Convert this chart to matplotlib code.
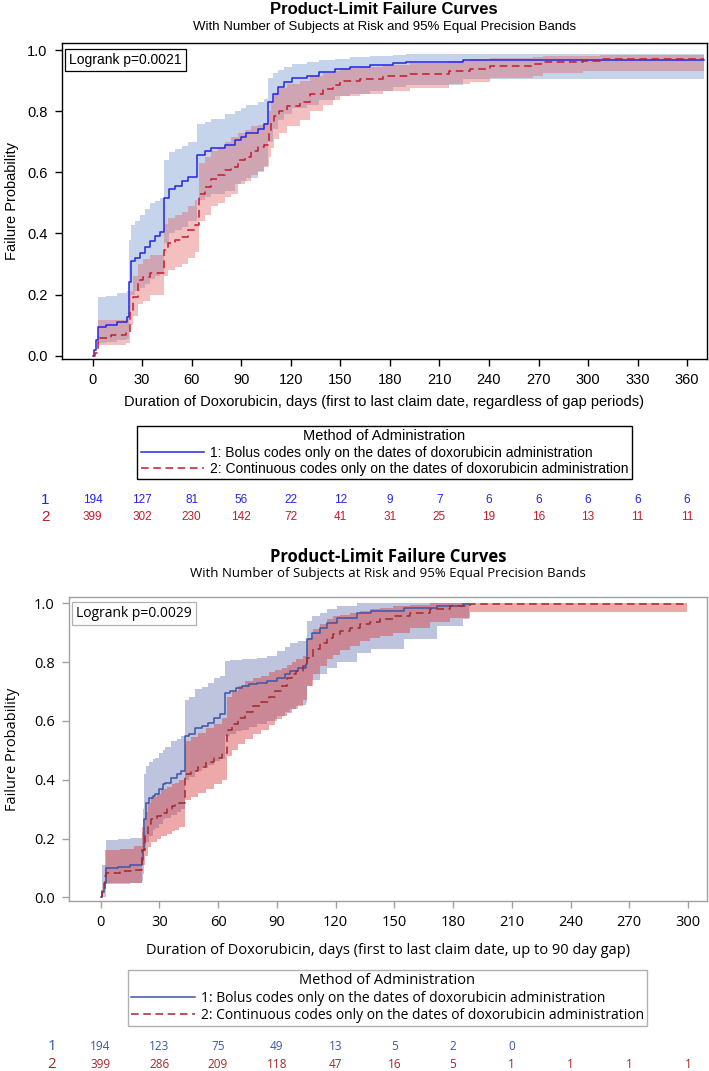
"""Product-limit failure curves for bolus vs continuous doxorubicin (two panels)."""
import matplotlib
matplotlib.use("Agg")
import matplotlib.pyplot as plt
from matplotlib.lines import Line2D
from matplotlib.transforms import blended_transform_factory

# ---- top panel: regardless of gap periods ----
# event times, failure probability and the 95% band at each time
TOP_T1 = [0, 1, 2, 3, 8, 15, 21, 22, 23, 26, 29, 32, 35, 38, 41, 43, 46, 50, 54, 58,
          63.5, 68, 72, 80, 86, 90, 93, 100, 104, 106.5, 109, 112, 116, 121, 130, 137,
          147, 156, 168, 182, 190, 224]
TOP_F1 = [0, 0.02, 0.05, 0.093, 0.10, 0.11, 0.125, 0.24, 0.31, 0.32, 0.335, 0.355, 0.375,
          0.39, 0.405, 0.515, 0.545, 0.555, 0.57, 0.585, 0.655, 0.67, 0.68, 0.69, 0.705,
          0.715, 0.727, 0.74, 0.757, 0.83, 0.855, 0.878, 0.894, 0.907, 0.916, 0.927, 0.938,
          0.943, 0.95, 0.959, 0.962, 0.968]
TOP_LO1 = [0, 0.02, 0.05, 0.04, 0.045, 0.05, 0.055, 0.13, 0.20, 0.21, 0.22, 0.235, 0.25,
           0.26, 0.27, 0.37, 0.40, 0.41, 0.42, 0.44, 0.51, 0.52, 0.53, 0.54, 0.56, 0.57,
           0.58, 0.60, 0.62, 0.70, 0.74, 0.77, 0.79, 0.81, 0.82, 0.835, 0.85, 0.855, 0.865,
           0.88, 0.885, 0.905]
TOP_HI1 = [0, 0.02, 0.05, 0.193, 0.195, 0.204, 0.21, 0.38, 0.427, 0.44, 0.46, 0.48, 0.50,
           0.505, 0.515, 0.64, 0.665, 0.675, 0.685, 0.70, 0.758, 0.765, 0.775, 0.79, 0.80,
           0.81, 0.82, 0.83, 0.84, 0.91, 0.925, 0.935, 0.945, 0.954, 0.96, 0.967, 0.972,
           0.976, 0.98, 0.985, 0.986, 0.988]

TOP_T2 = [0, 1.5, 3, 11, 20, 22.5, 24.5, 27.5, 30.5, 35, 43, 45.5, 50, 54, 58, 62, 64.5,
          68, 72, 76, 80, 84, 88, 92, 96, 100, 104, 106.8, 108, 110, 113, 117.5, 125.5,
          131.6, 139.7, 145.7, 149.8, 162, 176, 192, 216, 228.5, 240.6, 266.8, 272.8, 297, 307]
TOP_F2 = [0, 0.01, 0.057, 0.067, 0.078, 0.149, 0.193, 0.247, 0.258, 0.269, 0.345, 0.367,
          0.377, 0.388, 0.41, 0.427, 0.53, 0.552, 0.579, 0.59, 0.606, 0.617, 0.639, 0.65,
          0.671, 0.684, 0.69, 0.73, 0.76, 0.785, 0.80, 0.818, 0.829, 0.856, 0.873, 0.884,
          0.90, 0.905, 0.914, 0.922, 0.932, 0.938, 0.949, 0.954, 0.96, 0.965, 0.971]
TOP_LO2 = [0, 0.01, 0.035, 0.035, 0.04, 0.10, 0.13, 0.17, 0.18, 0.20, 0.26, 0.28, 0.29,
           0.30, 0.32, 0.34, 0.44, 0.46, 0.49, 0.50, 0.52, 0.53, 0.56, 0.57, 0.59, 0.605,
           0.617, 0.65, 0.68, 0.71, 0.73, 0.75, 0.77, 0.80, 0.82, 0.835, 0.85, 0.855, 0.865,
           0.875, 0.889, 0.895, 0.91, 0.916, 0.925, 0.93, 0.932]
TOP_HI2 = [0, 0.01, 0.116, 0.116, 0.12, 0.21, 0.26, 0.30, 0.315, 0.33, 0.43, 0.45, 0.46,
           0.47, 0.49, 0.51, 0.63, 0.65, 0.67, 0.68, 0.70, 0.715, 0.73, 0.737, 0.75, 0.755,
           0.76, 0.80, 0.83, 0.86, 0.875, 0.89, 0.90, 0.915, 0.925, 0.932, 0.94, 0.945,
           0.95, 0.958, 0.965, 0.97, 0.975, 0.978, 0.98, 0.982, 0.985]
TOP_END = 370
TOP_TICKS = list(range(0, 361, 30))
TOP_RISK1 = [194, 127, 81, 56, 22, 12, 9, 7, 6, 6, 6, 6, 6]
TOP_RISK2 = [399, 302, 230, 142, 72, 41, 31, 25, 19, 16, 13, 11, 11]

# ---- bottom panel: up to 90 day gap ----
BOT_T1 = [0, 1, 2, 3, 9, 15, 21, 21.7, 22.4, 23, 25, 27, 28, 30, 32, 33, 36, 39, 41, 43,
          45, 48, 52, 55, 58, 61, 63.6, 66, 69, 72, 76, 80, 85, 90, 94, 97, 101, 104.7,
          105.5, 108, 112, 115.5, 121, 131, 138, 155, 172, 185]
BOT_F1 = [0, 0.02, 0.05, 0.1, 0.103, 0.109, 0.128, 0.162, 0.265, 0.321, 0.338, 0.344, 0.35,
          0.367, 0.384, 0.39, 0.407, 0.418, 0.43, 0.548, 0.554, 0.577, 0.582, 0.594, 0.611,
          0.622, 0.696, 0.702, 0.713, 0.719, 0.724, 0.73, 0.736, 0.747, 0.758, 0.77, 0.78,
          0.792, 0.877, 0.9, 0.917, 0.934, 0.951, 0.968, 0.974, 0.982, 0.989, 0.997]
BOT_LO1 = [0, 0.0, 0.0, 0.045, 0.047, 0.05, 0.055, 0.08, 0.17, 0.19, 0.21, 0.23, 0.235,
           0.25, 0.265, 0.27, 0.28, 0.29, 0.30, 0.40, 0.41, 0.43, 0.44, 0.45, 0.465, 0.47,
           0.55, 0.555, 0.565, 0.57, 0.58, 0.59, 0.60, 0.615, 0.63, 0.64, 0.655, 0.66, 0.72,
           0.74, 0.76, 0.78, 0.80, 0.83, 0.845, 0.877, 0.923, 0.945]
BOT_HI1 = [0, 0.11, 0.111, 0.196, 0.198, 0.202, 0.221, 0.30, 0.42, 0.446, 0.46, 0.47, 0.475,
           0.49, 0.50, 0.51, 0.53, 0.54, 0.548, 0.67, 0.68, 0.707, 0.715, 0.73, 0.745, 0.752,
           0.804, 0.806, 0.808, 0.81, 0.812, 0.815, 0.82, 0.838, 0.85, 0.866, 0.872, 0.877,
           0.94, 0.955, 0.968, 0.98, 0.991, 1.0, 1.0, 1.0, 1.0, 1.0]
BOT_END1 = 188

BOT_T2 = [0, 1, 2.3, 3, 10, 17, 21.4, 22.7, 24.4, 26, 28.7, 31, 33.8, 36.3, 38, 40, 43, 46,
          50, 54, 58, 62, 64.5, 67, 70, 74, 78, 82, 86, 89, 92.5, 95, 98, 100, 103.6, 105.3,
          108.7, 112.1, 115.5, 118.9, 122.3, 127.4, 132.5, 137.6, 142.7, 149.6, 158.1,
          168.3, 178.5, 188.7]
BOT_F2 = [0, 0.03, 0.072, 0.083, 0.089, 0.094, 0.162, 0.208, 0.248, 0.265, 0.276, 0.287,
          0.299, 0.31, 0.316, 0.321, 0.42, 0.43, 0.445, 0.46, 0.475, 0.49, 0.57, 0.59, 0.61,
          0.63, 0.65, 0.665, 0.68, 0.70, 0.72, 0.747, 0.758, 0.77, 0.787, 0.815, 0.843,
          0.866, 0.883, 0.894, 0.906, 0.917, 0.928, 0.936, 0.946, 0.957, 0.968, 0.98,
          0.989, 0.997]
BOT_LO2 = [0, 0.03, 0.049, 0.049, 0.049, 0.05, 0.11, 0.14, 0.17, 0.19, 0.20, 0.208, 0.215,
           0.225, 0.23, 0.24, 0.33, 0.34, 0.355, 0.37, 0.385, 0.40, 0.48, 0.50, 0.52, 0.54,
           0.555, 0.57, 0.585, 0.605, 0.615, 0.628, 0.64, 0.65, 0.67, 0.72, 0.76, 0.787,
           0.81, 0.825, 0.84, 0.855, 0.87, 0.883, 0.89, 0.90, 0.917, 0.935, 0.951, 0.97]
BOT_HI2 = [0, 0.03, 0.162, 0.162, 0.165, 0.174, 0.24, 0.29, 0.32, 0.34, 0.35, 0.367, 0.375,
           0.385, 0.39, 0.40, 0.53, 0.545, 0.56, 0.575, 0.59, 0.61, 0.68, 0.70, 0.72, 0.736,
           0.745, 0.752, 0.765, 0.772, 0.78, 0.79, 0.80, 0.81, 0.82, 0.88, 0.911, 0.93,
           0.945, 0.955, 0.96, 0.968, 0.975, 0.98, 0.985, 0.991, 0.995, 1.0, 1.0, 1.0]
BOT_END2 = 299.4
BOT_TICKS = list(range(0, 301, 30))
BOT_RISK1 = [194, 123, 75, 49, 13, 5, 2, 0]
BOT_RISK2 = [399, 286, 209, 118, 47, 16, 5, 1, 1, 1, 1]

TITLE = "Product-Limit Failure Curves"
SUBTITLE = "With Number of Subjects at Risk and 95% Equal Precision Bands"
LEG_TITLE = "Method of Administration"
LEG_LABELS = ["1: Bolus codes only on the dates of doxorubicin administration",
              "2: Continuous codes only on the dates of doxorubicin administration"]

W, H = 709, 1071
fig = plt.figure(figsize=(W / 100, H / 100), dpi=100)


def fx(x):
    return x / W


def fy(y):
    return 1 - y / H


def add_ax(l, t, r, b):
    return fig.add_axes([fx(l), fy(b), fx(r - l), (b - t) / H])


def draw_curve(ax, t, f, lo, hi, end, color, band, alpha, ls):
    ax.fill_between(t + [end], lo + [lo[-1]], hi + [hi[-1]], step="post",
                    color=band, alpha=alpha, lw=0)
    ax.step(t + [end], f + [f[-1]], where="post", color=color, lw=1.1, ls=ls)


def panel(ax, font, frame, c1, c2, ticks, xlim, xlabel, pval, box_edge, risk1, risk2,
          risk_y, lab_x, leg_cx, leg_top, ylabel_x, title_y, xlabel_y):
    ax.set_xlim(*xlim)
    ax.set_ylim(-0.012, 1.022)
    ax.set_xticks(ticks)
    ax.set_yticks([0, 0.2, 0.4, 0.6, 0.8, 1.0])
    ax.set_yticklabels(["0.0", "0.2", "0.4", "0.6", "0.8", "1.0"])
    ax.tick_params(colors=frame, labelcolor="black", length=5, width=1, labelsize=10.5,
                   pad=5)
    for lab in ax.get_xticklabels() + ax.get_yticklabels():
        lab.set_family(font)
    for s in ax.spines.values():
        s.set_color(frame)
        s.set_linewidth(1)
    l, b, w, h = ax.get_position().bounds
    cx = l + w / 2
    fig.text(cx, fy(title_y), TITLE, ha="center", va="center", fontsize=12,
             fontweight="bold", family=font)
    fig.text(cx, fy(title_y + 17), SUBTITLE, ha="center", va="center", fontsize=9.5,
             family=font)
    fig.text(cx, fy(xlabel_y), xlabel, ha="center", va="center", fontsize=10.5,
             family=font)
    fig.text(fx(ylabel_x), b + h / 2, "Failure Probability", rotation=90, ha="center",
             va="center", fontsize=10.5, family=font)
    ax.text(0.012, 0.97, pval, transform=ax.transAxes, ha="left", va="top", fontsize=10,
            family=font, bbox=dict(boxstyle="square,pad=0.3", fc="white", ec=box_edge,
                                   lw=0.9))
    handles = [Line2D([], [], color=c1, lw=1.1),
               Line2D([], [], color=c2, lw=1.1, ls=(0, (5, 3)))]
    leg = fig.legend(handles, LEG_LABELS, title=LEG_TITLE, loc="upper center",
                     bbox_to_anchor=(fx(leg_cx), fy(leg_top)), frameon=True,
                     fancybox=False, edgecolor=box_edge, framealpha=1,
                     prop={"family": font, "size": 10}, title_fontsize=10.5,
                     handlelength=4.6, borderpad=0.25, labelspacing=0.15,
                     handletextpad=0.4, borderaxespad=0)
    leg.get_title().set_family(font)
    leg.get_frame().set_linewidth(1)
    tr = blended_transform_factory(ax.transData, fig.transFigure)
    for row, (vals, col) in enumerate(((risk1, c1), (risk2, c2))):
        y = fy(risk_y + 17 * row)
        fig.text(fx(lab_x), y, str(row + 1), ha="center", va="center", fontsize=11,
                 color=col, family=font)
        for t, n in zip(ticks, vals):
            ax.text(t, y, str(n), transform=tr, ha="center", va="center", fontsize=8.5,
                    color=col, family=font, clip_on=False)


# ---- top ----
top_font = ["Liberation Sans", "DejaVu Sans"]
ax1 = add_ax(61.5, 43.3, 707, 359.3)
draw_curve(ax1, TOP_T1, TOP_F1, TOP_LO1, TOP_HI1, TOP_END, "#2424E6", "#7091CD", 0.4, "-")
draw_curve(ax1, TOP_T2, TOP_F2, TOP_LO2, TOP_HI2, TOP_END, "#C8192C", "#E16161", 0.4,
           (0, (5, 3)))
panel(ax1, top_font, "black", "#2424E6", "#C8192C", TOP_TICKS, (-18.8, 372),
      "Duration of Doxorubicin, days (first to last claim date, regardless of gap periods)",
      "Logrank p=0.0021", "black", TOP_RISK1, TOP_RISK2, 500, 45, 384.5, 426, 12, 10, 402)

# ---- bottom ----
bot_font = ["Open Sans", "DejaVu Sans"]
ax2 = add_ax(68.8, 596.7, 706.8, 901)
draw_curve(ax2, BOT_T1, BOT_F1, BOT_LO1, BOT_HI1, BOT_END1, "#3A56A5", "#6F7AB6", 0.45, "-")
draw_curve(ax2, BOT_T2, BOT_F2, BOT_LO2, BOT_HI2, BOT_END2, "#A3272B", "#D94040", 0.45,
           (0, (5, 3)))
panel(ax2, bot_font, "#A0A0A0", "#3A56A5", "#A3272B", BOT_TICKS, (-16.2, 309.6),
      "Duration of Doxorubicin, days (first to last claim date, up to 90 day gap)",
      "Logrank p=0.0029", "#B0B0B0", BOT_RISK1, BOT_RISK2, 1047, 52, 387.4, 970, 12, 557,
      950)

fig.savefig("out.png", dpi=100)
